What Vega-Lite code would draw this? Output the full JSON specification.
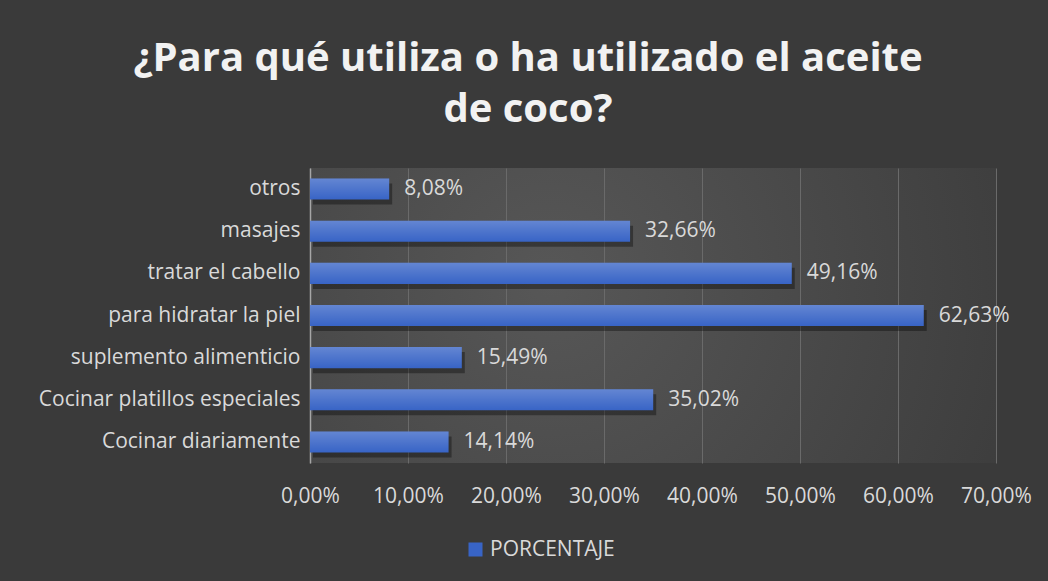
{
  "$schema": "https://vega.github.io/schema/vega-lite/v6.json",
  "width": 686,
  "height": 295,
  "autosize": {"type": "none"},
  "padding": {"left": 310, "top": 168, "right": 52, "bottom": 118},
  "background": "#3a3a3a",
  "config": {
    "locale": {"number": {"decimal": ",", "thousands": ".", "grouping": [3], "currency": ["", " €"]}},
    "font": "Open Sans",
    "view": {
      "stroke": null,
      "fill": {
        "gradient": "radial",
        "x1": 0.35, "y1": 0.45, "r1": 0,
        "x2": 0.35, "y2": 0.45, "r2": 0.8,
        "stops": [{"offset": 0, "color": "#575757"}, {"offset": 1, "color": "#3a3a3a"}]
      }
    }
  },
  "title": {
    "text": ["¿Para qué utiliza o ha utilizado el aceite", "de coco?"],
    "font": "Open Sans",
    "fontSize": 40,
    "fontWeight": "bold",
    "color": "#f2f2f2",
    "anchor": "middle",
    "dx": -125,
    "offset": 38,
    "lineHeight": 51
  },
  "data": {
    "values": [
      {"uso": "otros", "porcentaje": 0.0808, "serie": "PORCENTAJE"},
      {"uso": "masajes", "porcentaje": 0.3266, "serie": "PORCENTAJE"},
      {"uso": "tratar el cabello", "porcentaje": 0.4916, "serie": "PORCENTAJE"},
      {"uso": "para hidratar la piel", "porcentaje": 0.6263, "serie": "PORCENTAJE"},
      {"uso": "suplemento alimenticio", "porcentaje": 0.1549, "serie": "PORCENTAJE"},
      {"uso": "Cocinar platillos especiales", "porcentaje": 0.3502, "serie": "PORCENTAJE"},
      {"uso": "Cocinar diariamente", "porcentaje": 0.1414, "serie": "PORCENTAJE"}
    ]
  },
  "encoding": {
    "y": {
      "field": "uso",
      "type": "nominal",
      "sort": null,
      "scale": {"paddingInner": 0.5, "paddingOuter": 0.25},
      "axis": {
        "title": null,
        "ticks": false,
        "domainColor": "#a6a6a6",
        "domainWidth": 1.5,
        "labelColor": "#d9d9d9",
        "labelFontSize": 21,
        "labelFont": "Open Sans",
        "labelPadding": 10,
        "labelLimit": 400,
        "grid": false
      }
    },
    "x": {
      "field": "porcentaje",
      "type": "quantitative",
      "scale": {"domain": [0, 0.7], "nice": false},
      "axis": {
        "title": null,
        "format": ".2%",
        "values": [0, 0.1, 0.2, 0.3, 0.4, 0.5, 0.6, 0.7],
        "domain": false,
        "ticks": false,
        "grid": true,
        "gridColor": "#6a6a6a",
        "gridWidth": 1,
        "labelColor": "#d9d9d9",
        "labelFontSize": 21,
        "labelFont": "Open Sans",
        "labelPadding": 22,
        "labelFlush": false
      }
    }
  },
  "layer": [
    {
      "mark": {"type": "bar", "color": "#000000", "opacity": 0.35, "xOffset": 3, "yOffset": 5}
    },
    {
      "mark": {"type": "bar"},
      "encoding": {
        "color": {
          "field": "serie",
          "type": "nominal",
          "scale": {"range": ["#3864c6"]},
          "legend": {
            "title": null,
            "orient": "none",
            "legendX": 155,
            "legendY": 371,
            "symbolType": "square",
            "symbolSize": 196,
            "symbolStrokeWidth": 0,
            "labelColor": "#d9d9d9",
            "labelFontSize": 21,
            "labelFont": "Open Sans",
            "labelOffset": 4,
            "padding": 0
          }
        }
      }
    },
    {
      "mark": {
        "type": "bar",
        "fill": {
          "gradient": "linear",
          "x1": 0, "y1": 0, "x2": 0, "y2": 1,
          "stops": [{"offset": 0, "color": "rgba(255,255,255,0.22)"}, {"offset": 1, "color": "rgba(255,255,255,0)"}]
        }
      }
    },
    {
      "mark": {"type": "text", "align": "left", "baseline": "middle", "dx": 15, "fontSize": 21, "font": "Open Sans", "color": "#d9d9d9"},
      "encoding": {
        "text": {"field": "porcentaje", "type": "quantitative", "format": ".2%"}
      }
    }
  ]
}
